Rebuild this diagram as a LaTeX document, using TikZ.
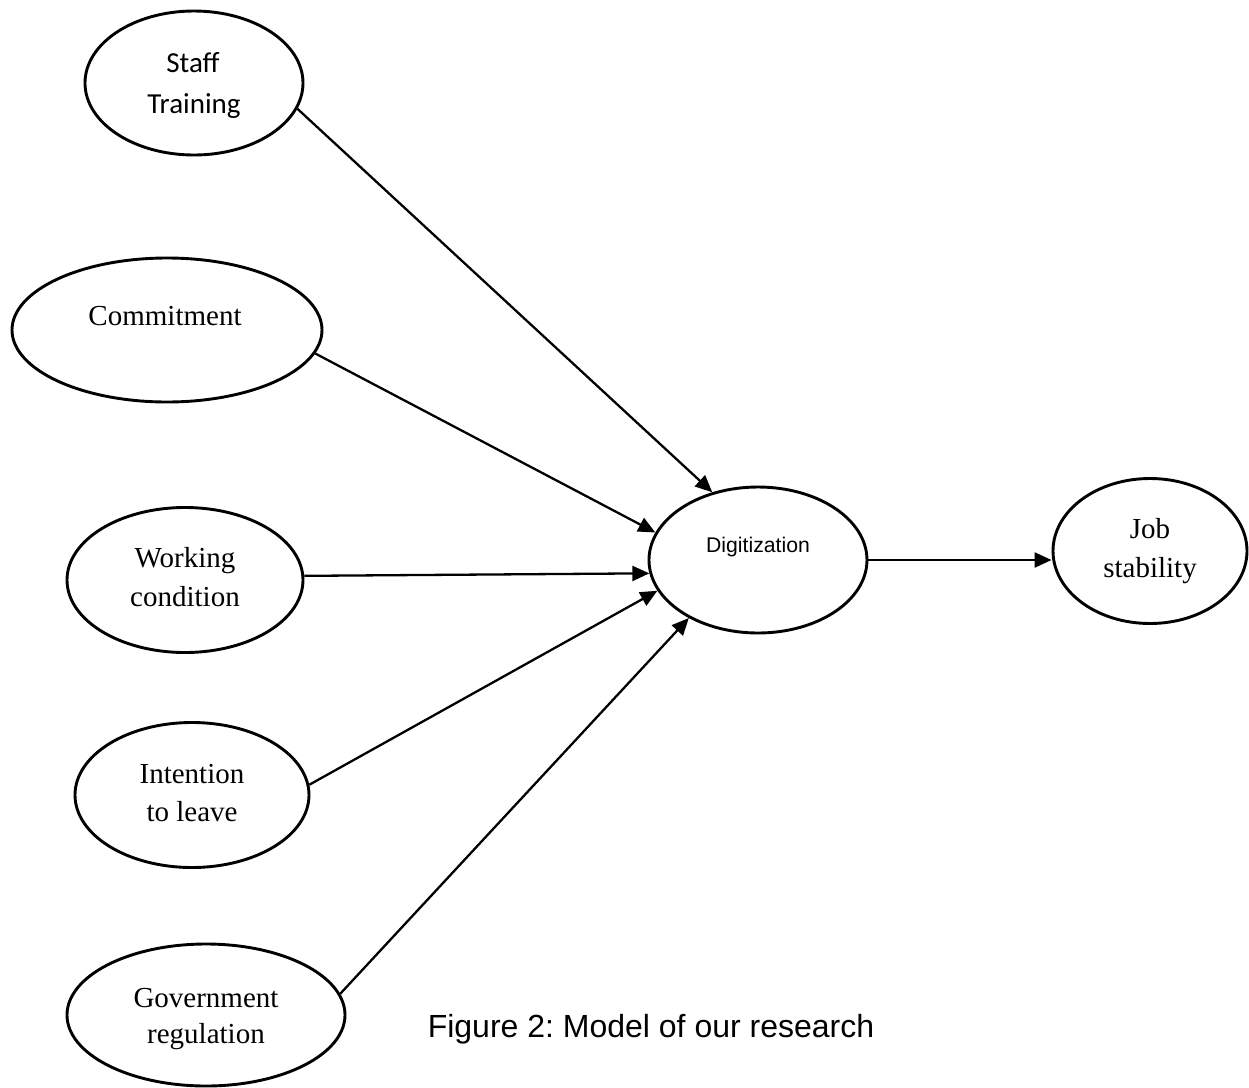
\documentclass[tikz,border=0pt]{standalone}
\usepackage{fontspec}
\newfontfamily\calfont{Carlito}
\newfontfamily\tnrfont{Liberation Serif}
\newfontfamily\arlfont{Liberation Sans}
\usetikzlibrary{shapes.geometric,arrows.meta}
\frenchspacing
\tikzset{
  oval/.style={draw, ellipse, line width=1.45pt, inner sep=0pt},
  lbl/.style={anchor=base, inner sep=0pt},
  serif/.style={lbl, font=\tnrfont\fontsize{14.5pt}{17pt}\selectfont},
  calib/.style={lbl, font=\calfont\fontsize{14.5pt}{17pt}\selectfont},
  arr/.style={line width=1.15pt, -{Triangle[length=8.5pt,width=7.5pt]}}
}
\begin{document}
\begin{tikzpicture}[x=0.5pt,y=-0.5pt]
\useasboundingbox (0,0) rectangle (1249,1088);
% ellipses (sizes in pt = half of pixel size)
\node[oval, minimum width=109pt, minimum height=72pt] (st) at (194,83) {};
\node[oval, minimum width=155pt, minimum height=72pt] (cm) at (167,330) {};
\node[oval, minimum width=118pt, minimum height=72.5pt] (wc) at (185,580) {};
\node[oval, minimum width=117pt, minimum height=72.5pt] (il) at (192,795) {};
\node[oval, minimum width=139pt, minimum height=71pt] (gr) at (206,1015) {};
\node[oval, minimum width=109pt, minimum height=73pt] (dig) at (758,560) {};
\node[oval, minimum width=97pt, minimum height=72.5pt] (job) at (1150,551) {};
% labels
\node[calib] (st1) at (193,72) {Staff};
\node[calib] (st2) at (194,113) {Training};
\node[serif] (cm1) at (165,325) {Commitment};
\node[serif] (wc1) at (185,567) {Working};
\node[serif] (wc2) at (185,606) {condition};
\node[serif] (il1) at (192,783) {Intention};
\node[serif] (il2) at (192,821) {to leave};
\node[serif] (gr1) at (206,1007) {Government};
\node[serif] (gr2) at (206,1043) {regulation};
\node[serif] (job1) at (1150,538) {Job};
\node[serif] (job2) at (1150,577) {stability};
\node[lbl, font=\arlfont\fontsize{10.6pt}{12pt}\selectfont] (dig1) at (758,552) {Digitization};
\node[lbl, font=\arlfont\fontsize{16pt}{19pt}\selectfont] (cap) at (651,1037) {Figure 2: Model of our research};
% connectors
\draw[arr] (st.-14) -- (dig.124.5);
\draw[arr] (cm.-9.3) -- (dig.165.3);
\draw[arr] (wc.2) -- (dig.-173.7);
\draw[arr] (il.5.2) -- (dig.-163.1);
\draw[arr] (gr.9) -- (dig.-140.4);
\draw[arr] (dig.east) -- (dig.east -| job.west);
\end{tikzpicture}
\end{document}
